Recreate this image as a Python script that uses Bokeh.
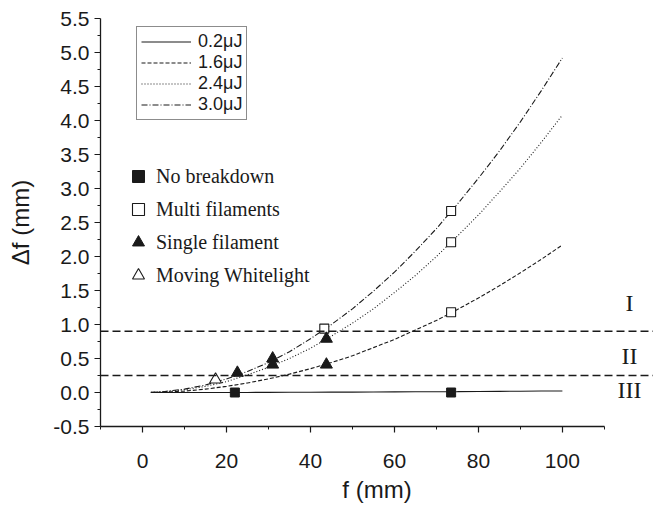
from bokeh.plotting import figure
from bokeh.models import (Range1d, FixedTicker, Span, Legend, LegendItem, ColumnDataSource,
                          NumeralTickFormatter)
from bokeh.core.properties import value
from bokeh.embed import file_html
from bokeh.resources import INLINE

# ---------------- data ----------------
f_mm = [2, 5, 10, 15, 20, 25, 30, 35, 40, 45, 50, 55, 60, 65, 70, 75, 80, 85, 90, 95, 100]
df_02uJ = [0.0, 0.0, 0.0, 0.0, 0.001, 0.001, 0.002, 0.003, 0.004, 0.005, 0.006, 0.007,
           0.009, 0.01, 0.012, 0.013, 0.015, 0.017, 0.019, 0.021, 0.023]
df_16uJ = [0.001, 0.005, 0.02, 0.05, 0.09, 0.14, 0.20, 0.27, 0.35, 0.44, 0.54, 0.66,
           0.78, 0.92, 1.06, 1.22, 1.39, 1.57, 1.76, 1.96, 2.17]
df_24uJ = [0.002, 0.01, 0.04, 0.09, 0.16, 0.26, 0.37, 0.50, 0.65, 0.83, 1.02, 1.23,
           1.47, 1.72, 2.00, 2.30, 2.61, 2.95, 3.30, 3.68, 4.08]
df_30uJ = [0.002, 0.012, 0.05, 0.11, 0.20, 0.31, 0.44, 0.60, 0.79, 1.00, 1.23, 1.49,
           1.77, 2.08, 2.41, 2.77, 3.15, 3.55, 3.98, 4.44, 4.92]
line_labels = ["0.2\u03bcJ", "1.6\u03bcJ", "2.4\u03bcJ", "3.0\u03bcJ"]

nobreak_f = [22.0, 73.5]
nobreak_df = [0.0, 0.0]
multi_f = [43.3, 73.5, 73.5, 73.5]
multi_df = [0.94, 2.67, 2.21, 1.18]
single_f = [22.6, 31.0, 31.0, 43.8, 43.8]
single_df = [0.29, 0.50, 0.41, 0.79, 0.41]
moving_f = [17.4]
moving_df = [0.19]
marker_labels = ["No breakdown", "Multi filaments", "Single filament", "Moving Whitelight"]

thresholds = [0.9, 0.25]
region_labels = ["I", "II", "III"]
region_y = [1.31, 0.53, 0.03]
region_x = [116, 116, 116]

x_ticks = [0, 20, 40, 60, 80, 100]
x_minor = [-10, 10, 30, 50, 70, 90, 110]
y_ticks = [-0.5, 0.0, 0.5, 1.0, 1.5, 2.0, 2.5, 3.0, 3.5, 4.0, 4.5, 5.0, 5.5]
y_minor = [-0.25, 0.25, 0.75, 1.25, 1.75, 2.25, 2.75, 3.25, 3.75, 4.25, 4.75, 5.25]

# ---------------- figure ----------------
INK = "#1a1a1a"
p = figure(width=653, height=506, output_backend="svg", toolbar_location=None,
           x_range=Range1d(-10, 121.7), y_range=Range1d(-0.5, 5.5),
           min_border_left=100, min_border_right=0, min_border_top=18, min_border_bottom=80)
p.outline_line_color = None
p.grid.visible = False
p.background_fill_color = "white"
p.border_fill_color = "white"

for ax in (p.xaxis[0], p.yaxis[0]):
    ax.axis_line_color = INK
    ax.axis_line_width = 1.3
    ax.major_tick_line_color = INK
    ax.minor_tick_line_color = INK
    ax.major_tick_line_width = 1.2
    ax.minor_tick_line_width = 1.0
    ax.major_tick_in = 0
    ax.major_tick_out = 6
    ax.minor_tick_in = 0
    ax.minor_tick_out = 3
    ax.major_label_text_font = "Liberation Sans"
    ax.major_label_text_font_size = "21px"
    ax.major_label_text_color = INK
    ax.axis_label_text_font = "Liberation Sans"
    ax.axis_label_text_font_size = "24px"
    ax.axis_label_text_font_style = "normal"
    ax.axis_label_text_color = INK

p.xaxis[0].ticker = FixedTicker(ticks=x_ticks, minor_ticks=x_minor)
p.yaxis[0].ticker = FixedTicker(ticks=y_ticks, minor_ticks=y_minor)
p.yaxis[0].formatter = NumeralTickFormatter(format="0.0")
p.xaxis[0].bounds = (-10, 110)
p.yaxis[0].bounds = (-0.5, 5.5)
p.xaxis[0].axis_label = "f (mm)"
p.yaxis[0].axis_label = "\u0394f (mm)"
p.xaxis[0].major_label_standoff = 21
p.xaxis[0].axis_label_standoff = 5
p.yaxis[0].major_label_standoff = 5
p.yaxis[0].axis_label_standoff = 16

# threshold dashed lines
for t in thresholds:
    p.add_layout(Span(location=t, dimension="width", line_color=INK,
                      line_dash="8 4", line_width=1.6))

# curves
styles = [("solid", 1.1), ("4 2", 1.1), ("1 2", 1.1), ("6 2 1 2", 1.1)]
series = [df_02uJ, df_16uJ, df_24uJ, df_30uJ]
line_items = []
for lab, ys, (dash, lw) in zip(line_labels, series, styles):
    r = p.line(f_mm, ys, line_color=INK, line_dash=dash, line_width=lw)
    line_items.append(LegendItem(label=lab, renderers=[r]))

# markers
r_nb = p.scatter(nobreak_f, nobreak_df, marker="square", size=9,
                 fill_color=INK, line_color=INK)
r_mf = p.scatter(multi_f, multi_df, marker="square", size=9,
                 fill_color="white", line_color=INK, line_width=1.1)
r_sf = p.scatter(single_f, single_df, marker="triangle", size=12,
                 fill_color=INK, line_color=INK)
r_mw = p.scatter(moving_f, moving_df, marker="triangle", size=12,
                 fill_color="white", line_color=INK, line_width=1.1)
marker_items = [LegendItem(label=l, renderers=[r]) for l, r in
                zip(marker_labels, [r_nb, r_mf, r_sf, r_mw])]

# region labels
src = ColumnDataSource(dict(x=region_x, y=region_y, t=region_labels))
p.text(x="x", y="y", text="t", source=src, text_font=value("Liberation Serif"),
       text_font_size="24px", text_color=INK, text_align="center",
       text_baseline="middle")

# legends
leg1 = Legend(items=line_items, location=(36, 306), orientation="vertical",
              glyph_width=50, glyph_height=19, label_height=19, spacing=-2,
              padding=4, margin=0, label_standoff=7,
              label_text_font="Liberation Sans", label_text_font_size="18px",
              label_text_color=INK, border_line_color=INK, border_line_width=1,
              background_fill_alpha=1.0, background_fill_color="white")
leg2 = Legend(items=marker_items, location=(23, 136), orientation="vertical",
              glyph_width=30, glyph_height=30, label_height=20, spacing=3,
              padding=0, margin=0, label_standoff=3,
              label_text_font="Liberation Serif", label_text_font_size="20px",
              label_text_color=INK, border_line_color=None,
              background_fill_alpha=0.0)
p.add_layout(leg1)
p.add_layout(leg2)

open("out.html", "w").write(file_html(p, INLINE))
